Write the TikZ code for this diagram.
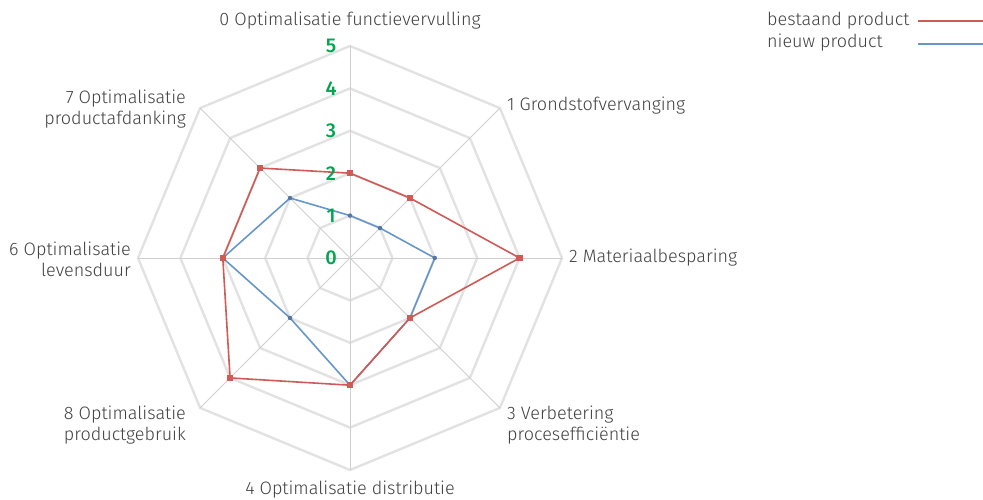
\documentclass[tikz,border=0pt]{standalone}
\usepackage{fontspec}
\setmainfont{Fira Sans}[UprightFont=* Light]
\newfontfamily\numfont{Fira Sans}[UprightFont=* Medium]
\usetikzlibrary{calc}
\definecolor{gridc}{HTML}{E2E2E2}
\definecolor{axisc}{HTML}{CFCFCF}
\definecolor{redc}{HTML}{CF5A56}
\definecolor{bluec}{HTML}{6796CB}
\definecolor{greenc}{HTML}{00A550}
\definecolor{textc}{HTML}{404040}
\tikzset{
  gridoct/.style={draw=gridc, line width=2.4pt, line join=round},
  axisline/.style={draw=axisc, line width=0.8pt},
  redline/.style={draw=redc, line width=1.6pt, line join=round},
  blueline/.style={draw=bluec, line width=1.6pt, line join=round},
  redmark/.style={fill=redc, minimum size=6.5pt, inner sep=0pt, rectangle, draw=none},
  bluemark/.style={fill=bluec!80!black, minimum size=4.5pt, inner sep=0pt, circle, draw=none},
  lab/.style={text=textc, font=\fontsize{18}{21}\selectfont, inner sep=0pt},
  num/.style={text=greenc, font=\numfont\fontsize{20}{22}\selectfont, inner sep=0pt},
}
\begin{document}
\begin{tikzpicture}[x=1pt,y=1pt]
\useasboundingbox (0,0) rectangle (983,500);
\coordinate (c) at (350,242);
\def\U{42.4}
% grid octagons
\foreach \k in {1,...,5}{
  \draw[gridoct, shift={(c)}] (90:\k*\U) \foreach \a in {45,0,-45,-90,-135,180,135}{ -- (\a:\k*\U)} -- cycle;
}
% axes
\foreach \a [count=\i from 0] in {90,45,0,-45,-90,-135,180,135}{
  \coordinate (ax\i) at ($(c)+(\a:5*\U)$);
  \draw[axisline] (c) -- (ax\i);
}
% data points
\foreach \a/\rv/\bv [count=\i from 0] in {90/2/1,45/2/1,0/4/2,-45/2/2,-90/3/3,-135/4/2,180/3/3,135/3/2}{
  \coordinate (r\i) at ($(c)+(\a:\rv*\U)$);
  \coordinate (b\i) at ($(c)+(\a:\bv*\U)$);
}
\draw[blueline] (b0) -- (b1) -- (b2) -- (b3) -- (b4) -- (b5) -- (b6) -- (b7) -- cycle;
\draw[redline] (r0) -- (r1) -- (r2) -- (r3) -- (r4) -- (r5) -- (r6) -- (r7) -- cycle;
\foreach \i in {0,...,7}{
  \node[bluemark] (bm\i) at (b\i) {};
  \node[redmark] (rm\i) at (r\i) {};
}
% scale numbers
\foreach \k in {0,...,5}{
  \node[num] (n\k) at ($(c)+(-19,\k*\U)$) {\k};
}
% labels
\node[lab] (l0) at (350,479) {0 Optimalisatie functievervulling};
\node[lab, anchor=west] (l1) at (507,394) {1 Grondstofvervanging};
\node[lab, anchor=west] (l2) at (569,242) {2 Materiaalbesparing};
\node[lab, anchor=west, align=left] (l3) at (507,75) {3 Verbetering\\procesefficiëntie};
\node[lab] (l4) at (350,10) {4 Optimalisatie distributie};
\node[lab, anchor=east, align=right] (l5) at (186,75) {8 Optimalisatie\\productgebruik};
\node[lab, anchor=east, align=right] (l6) at (131,241) {6 Optimalisatie\\levensduur};
\node[lab, anchor=east, align=right] (l7) at (186,391) {7 Optimalisatie\\productafdanking};
% legend
\node[lab, anchor=west] (lg1) at (767,479) {bestaand product};
\node[lab, anchor=west] (lg2) at (767,457) {nieuw product};
\coordinate (lr1) at (918,479);
\coordinate (lr2) at (983,479);
\coordinate (lb1) at (918,456);
\coordinate (lb2) at (983,456);
\draw[draw=redc, line width=2.2pt] (lr1) -- (lr2);
\draw[draw=bluec, line width=2.2pt] (lb1) -- (lb2);
\end{tikzpicture}
\end{document}
